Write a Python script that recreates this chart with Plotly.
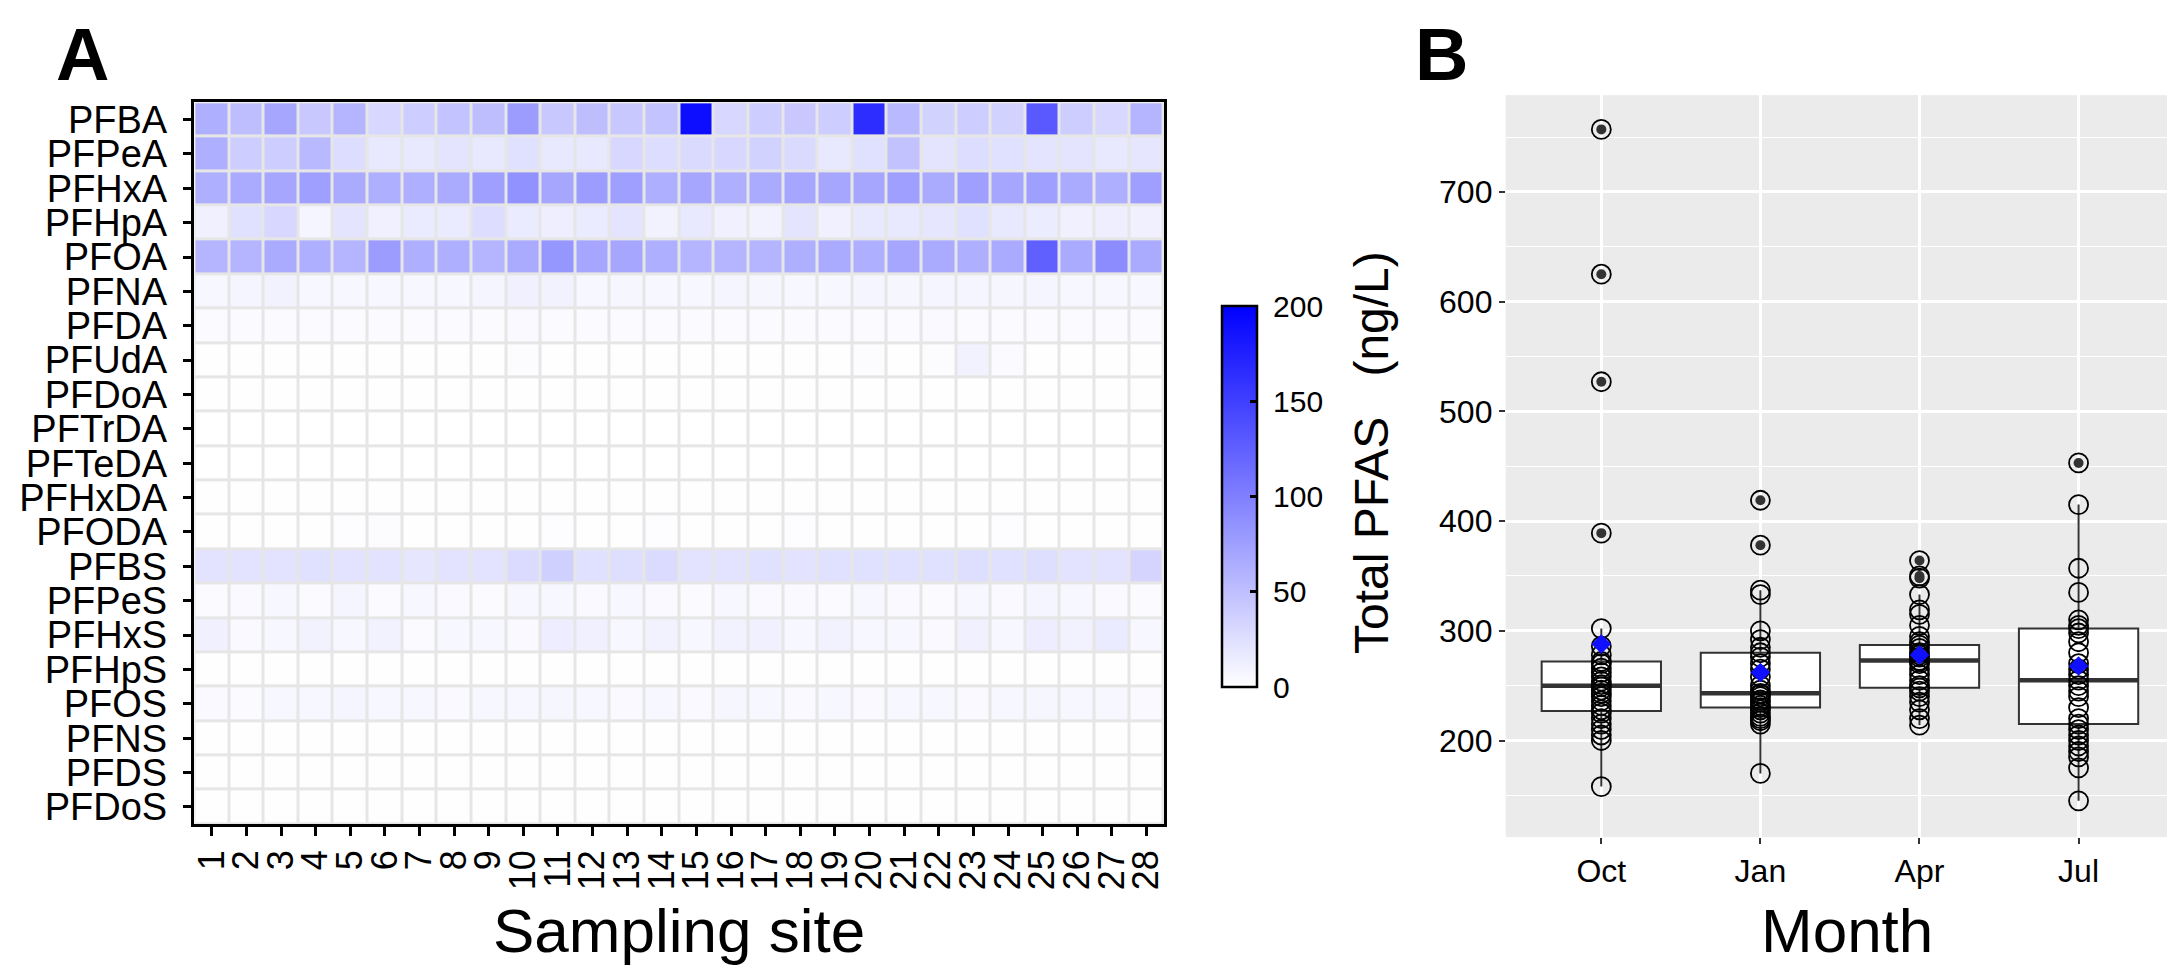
import plotly.graph_objects as go

W, H = 2175, 980
FONT = "Liberation Sans, Arial, Helvetica, sans-serif"

# ---------------- Panel A data ----------------
compounds = ["PFBA", "PFPeA", "PFHxA", "PFHpA", "PFOA", "PFNA", "PFDA", "PFUdA", "PFDoA",
             "PFTrDA", "PFTeDA", "PFHxDA", "PFODA", "PFBS", "PFPeS", "PFHxS", "PFHpS",
             "PFOS", "PFNS", "PFDS", "PFDoS"]
sites = list(range(1, 29))

pfba   = [63, 51, 70, 43, 59, 31, 39, 47, 51, 78, 43, 51, 43, 47, 190, 31, 39, 43, 39, 165, 55, 35, 39, 35, 130, 39, 31, 59]
pfpea  = [63, 39, 39, 55, 27, 18, 18, 21, 18, 24, 18, 18, 31, 27, 29, 31, 35, 29, 18, 24, 48, 21, 27, 24, 21, 21, 18, 20]
pfhxa  = [63, 67, 70, 75, 67, 63, 63, 67, 75, 86, 70, 78, 75, 63, 70, 63, 67, 70, 70, 70, 75, 67, 75, 70, 75, 67, 63, 75]
pfhpa  = [12, 24, 31, 8, 21, 12, 16, 16, 27, 16, 13, 16, 21, 10, 18, 12, 10, 21, 12, 18, 18, 20, 24, 18, 15, 12, 13, 12]
pfoa   = [59, 59, 67, 63, 59, 78, 63, 63, 59, 67, 82, 70, 70, 63, 59, 59, 59, 63, 67, 63, 70, 67, 63, 67, 125, 67, 90, 67]
pfna   = [6, 8, 10, 6, 6, 6, 6, 6, 8, 12, 10, 6, 7, 6, 6, 8, 7, 6, 6, 8, 7, 8, 8, 7, 8, 6, 6, 6]
pfda   = [4, 4, 4, 3, 4, 4, 3, 4, 4, 5, 4, 3, 4, 4, 3, 4, 4, 3, 4, 4, 4, 5, 4, 4, 4, 4, 3, 4]
pfuda  = [1, 1, 1, 1, 1, 1, 1, 1, 1, 2, 1, 1, 1, 1, 1, 1, 1, 1, 1, 2, 1, 2, 10, 3, 1, 1, 1, 1]
pfdoa  = [0.5, 0.5, 0.6, 0.5, 0.5, 0.5, 0.5, 0.5, 0.6, 0.5, 0.5, 0.5, 0.5, 0.5, 0.5, 0.6, 0.5, 0.5, 0.5, 0.5, 0.5, 0.5, 0.8, 0.5, 0.5, 0.5, 0.5, 0.5]
pftrda = [0.3, 0.3, 0.3, 0.3, 0.3, 0.3, 0.3, 0.3, 0.3, 0.3, 0.3, 0.3, 0.3, 0.3, 0.3, 0.3, 0.3, 0.3, 0.3, 0.3, 0.3, 0.3, 0.3, 0.3, 0.3, 0.3, 0.3, 0.3]
pfteda = [0.3, 0.3, 0.3, 0.3, 0.3, 0.3, 0.3, 0.3, 0.3, 0.3, 0.3, 0.3, 0.3, 0.3, 0.3, 0.3, 0.3, 0.3, 0.3, 0.3, 0.3, 0.3, 0.3, 0.3, 0.3, 0.3, 0.3, 0.3]
pfhxda = [0.4, 0.4, 0.4, 0.4, 0.6, 0.4, 0.4, 0.4, 0.4, 0.4, 0.4, 0.4, 0.4, 0.4, 0.4, 0.4, 0.4, 0.4, 0.4, 0.4, 0.4, 0.4, 0.4, 0.4, 0.4, 0.4, 0.4, 0.4]
pfoda  = [1.0, 1.0, 1.0, 1.0, 1.5, 2.0, 1.0, 1.0, 1.0, 1.0, 1.5, 1.0, 1.0, 1.5, 1.0, 1.0, 1.0, 1.5, 1.0, 1.0, 1.0, 1.0, 1.0, 1.5, 1.0, 1.0, 1.0, 1.0]
pfbs   = [22, 22, 22, 24, 22, 22, 20, 22, 22, 28, 37, 24, 26, 28, 22, 22, 24, 22, 24, 24, 24, 24, 26, 24, 26, 22, 22, 34]
pfpes  = [4, 5, 6, 4, 8, 3, 6, 5, 4, 6, 6, 5, 6, 5, 4, 6, 5, 5, 4, 6, 5, 4, 6, 5, 8, 6, 5, 4]
pfhxs  = [12, 5, 6, 10, 6, 10, 4, 6, 6, 5, 14, 12, 6, 10, 6, 10, 12, 6, 10, 6, 6, 5, 12, 6, 14, 10, 16, 6]
pfhps  = [1, 1, 1, 1, 1, 1, 1, 1, 1, 1, 1, 1, 1, 1, 1, 1, 1, 1, 1, 1, 1, 1, 1, 1, 1, 1, 1, 1]
pfos   = [5, 4, 6, 6, 8, 6, 6, 5, 6, 6, 7, 6, 5, 6, 5, 7, 6, 5, 6, 5, 6, 6, 5, 6, 7, 6, 6, 5]
pfns   = [0.5, 0.5, 0.5, 0.5, 0.5, 0.5, 0.5, 0.5, 0.5, 0.5, 0.5, 0.5, 0.5, 0.5, 0.5, 0.5, 0.5, 0.5, 0.5, 0.5, 0.5, 0.5, 0.5, 0.5, 0.5, 0.5, 0.5, 0.5]
pfds   = [0.5, 0.5, 0.5, 0.5, 0.5, 0.5, 0.5, 0.5, 0.5, 0.5, 0.5, 0.5, 0.5, 0.5, 0.5, 0.5, 0.5, 0.5, 0.5, 0.5, 0.5, 0.5, 0.5, 0.5, 0.5, 0.5, 0.5, 0.5]
pfdos  = [0.5, 0.5, 0.5, 0.5, 0.5, 0.5, 0.5, 0.5, 0.5, 0.5, 0.5, 0.5, 0.5, 0.5, 0.5, 0.5, 0.5, 0.5, 0.5, 0.5, 0.5, 0.5, 0.5, 0.5, 0.5, 0.5, 0.5, 0.5]

z_rows = [pfba, pfpea, pfhxa, pfhpa, pfoa, pfna, pfda, pfuda, pfdoa, pftrda, pfteda,
          pfhxda, pfoda, pfbs, pfpes, pfhxs, pfhps, pfos, pfns, pfds, pfdos]
cbar_ticks = [0, 50, 100, 150, 200]

# ---------------- Panel B data ----------------
months = ["Oct", "Jan", "Apr", "Jul"]
oct_vals = [757, 625, 527, 389, 302, 286, 278, 272, 270, 266, 262, 258, 254, 251, 249, 246, 243, 240,
            236, 232, 228, 225, 220, 215, 210, 205, 200, 158]
jan_vals = [419, 378, 337, 333, 300, 292, 285, 280, 276, 270, 265, 258, 250, 246, 243, 242, 240, 237,
            235, 232, 230, 228, 225, 222, 220, 218, 215, 170]
apr_vals = [364, 350, 348, 333, 319, 315, 305, 295, 290, 287, 284, 280, 278, 276, 273, 272, 270, 265,
            260, 255, 250, 248, 245, 240, 235, 228, 220, 214]
jul_vals = [453, 415, 357, 335, 310, 305, 302, 298, 290, 280, 270, 265, 260, 255, 250, 245, 240, 230,
            220, 215, 210, 205, 200, 195, 190, 185, 175, 145]
box_q1 = [227, 230, 248, 215]
box_median = [250, 243, 273, 255]
box_q3 = [272, 280, 287, 302]
box_low = [158, 170, 214, 145]
box_high = [302, 337, 333, 415]
month_means = [288, 262, 278, 268]
y_ticks_b = [200, 300, 400, 500, 600, 700]


def px_x(p):
    return p / W


def px_y(p):
    return 1 - p / H


fig = go.Figure()

# Heatmap
fig.add_trace(go.Heatmap(
    z=z_rows, x=sites, y=list(range(len(compounds))),
    colorscale=[[0, "#FFFFFF"], [1, "#0000FF"]], zmin=0, zmax=200,
    xgap=3, ygap=3, xaxis="x", yaxis="y",
    colorbar=dict(
        thickness=35, thicknessmode="pixels",
        len=384 / H, lenmode="fraction",
        x=px_x(1213), xanchor="left", y=px_y(489), yanchor="middle",
        xpad=0, ypad=0,
        outlinewidth=2.5, outlinecolor="black",
        tickvals=cbar_ticks, ticktext=["\u00a0" + str(t) for t in cbar_ticks],
        ticks="inside", ticklen=8, tickwidth=2.5, tickcolor="black",
        tickfont=dict(size=30, color="black", family=FONT),
    ),
    showscale=True,
))

# Boxes
fig.add_trace(go.Box(
    x=list(range(4)), q1=box_q1, median=box_median, q3=box_q3,
    lowerfence=box_low, upperfence=box_high,
    width=0.75, whiskerwidth=0, boxpoints=False,
    fillcolor="white", line=dict(color="#333333", width=2),
    xaxis="x2", yaxis="y2", showlegend=False,
))

# Median thick lines
for i, m in enumerate(box_median):
    fig.add_trace(go.Scatter(
        x=[i - 0.375, i + 0.375], y=[m, m], mode="lines",
        line=dict(color="#333333", width=4.5), xaxis="x2", yaxis="y2",
        showlegend=False, hoverinfo="skip",
    ))

all_vals = [oct_vals, jan_vals, apr_vals, jul_vals]
# Outlier filled dots
for i, vals in enumerate(all_vals):
    outs = [v for v in vals if v > box_high[i] or v < box_low[i]]
    fig.add_trace(go.Scatter(
        x=[i] * len(outs), y=outs, mode="markers",
        marker=dict(symbol="circle", size=10, color="#333333"),
        xaxis="x2", yaxis="y2", showlegend=False,
    ))
# Open circles for all points
for i, vals in enumerate(all_vals):
    fig.add_trace(go.Scatter(
        x=[i] * len(vals), y=vals, mode="markers",
        marker=dict(symbol="circle-open", size=19, color="black", line=dict(width=1.8)),
        xaxis="x2", yaxis="y2", showlegend=False,
    ))
# Means
fig.add_trace(go.Scatter(
    x=list(range(4)), y=month_means, mode="markers",
    marker=dict(symbol="diamond", size=15, color="#1010FF"),
    xaxis="x2", yaxis="y2", showlegend=False,
))

axis_font = dict(family=FONT, color="black")

fig.update_layout(
    width=W, height=H,
    margin=dict(l=0, r=0, t=0, b=0),
    paper_bgcolor="white",
    plot_bgcolor="#e6e6e6",
    font=dict(family=FONT, color="black"),
    showlegend=False,
    xaxis=dict(
        domain=[px_x(183), px_x(1155)], anchor="y",
        range=[0.5, 28.5], tickvals=sites, ticktext=[str(s) for s in sites],
        tickangle=-90, tickfont=dict(size=36, **axis_font),
        ticks="outside", ticklen=9, tickwidth=2.5, tickcolor="black",
        showline=True, linecolor="black", linewidth=2.5, mirror=True,
        showgrid=False, zeroline=False,
    ),
    yaxis=dict(
        domain=[px_y(819), px_y(92)], anchor="x",
        range=[len(compounds) - 0.5, -0.5],
        tickvals=list(range(len(compounds))), ticktext=compounds,
        tickfont=dict(size=38, **axis_font),
        ticks="outside", ticklen=9, tickwidth=2.5, tickcolor="black",
        ticklabelstandoff=8,
        showline=True, linecolor="black", linewidth=2.5, mirror=True,
        showgrid=False, zeroline=False,
    ),
    xaxis2=dict(
        domain=[px_x(1498), px_x(2168)], anchor="y2",
        range=[-0.6, 3.6], tickvals=list(range(4)), ticktext=months,
        tickfont=dict(size=32, **axis_font),
        ticks="outside", ticklen=6, tickwidth=1.5, tickcolor="#333333",
        showgrid=True, gridcolor="white", gridwidth=2.5,
        showline=False, zeroline=False,
    ),
    yaxis2=dict(
        domain=[px_y(832), px_y(85)], anchor="x2",
        range=[112, 788], tickvals=y_ticks_b,
        tickfont=dict(size=32, **axis_font),
        ticks="outside", ticklen=6, tickwidth=1.5, tickcolor="#333333",
        showgrid=True, gridcolor="white", gridwidth=2.5,
        minor=dict(tickvals=[150, 250, 350, 450, 550, 650, 750], showgrid=True,
                   gridcolor="white", gridwidth=1.2, ticks=""),
        showline=False, zeroline=False,
    ),
)

# Plot B background (heatmap uses plot_bgcolor for gaps)
fig.add_shape(type="rect", xref="paper", yref="paper",
              x0=px_x(1498), x1=px_x(2168), y0=px_y(832), y1=px_y(85),
              fillcolor="#EBEBEB", line=dict(width=0), layer="below")

ann = []
ann.append(dict(text="<b>A</b>", x=px_x(71), y=1.0, xref="paper", yref="paper",
                showarrow=False, xanchor="center", yanchor="top",
                font=dict(size=74, family=FONT, color="black")))
ann.append(dict(text="<b>B</b>", x=px_x(1433), y=1.0, xref="paper", yref="paper",
                showarrow=False, xanchor="center", yanchor="top",
                font=dict(size=74, family=FONT, color="black")))
ann.append(dict(text="Sampling site", x=px_x(669), y=px_y(926), xref="paper", yref="paper",
                showarrow=False, xanchor="center", yanchor="middle",
                font=dict(size=62, family=FONT, color="black")))
ann.append(dict(text="Month", x=px_x(1840), y=px_y(926), xref="paper", yref="paper",
                showarrow=False, xanchor="center", yanchor="middle",
                font=dict(size=62, family=FONT, color="black")))
ann.append(dict(text="Total PFAS\u00a0\u00a0\u00a0(ng/L)", x=px_x(1364), y=px_y(445),
                xref="paper", yref="paper", textangle=-90,
                showarrow=False, xanchor="center", yanchor="middle",
                font=dict(size=48, family=FONT, color="black")))
fig.update_layout(annotations=ann)

fig.write_html("out.html")
